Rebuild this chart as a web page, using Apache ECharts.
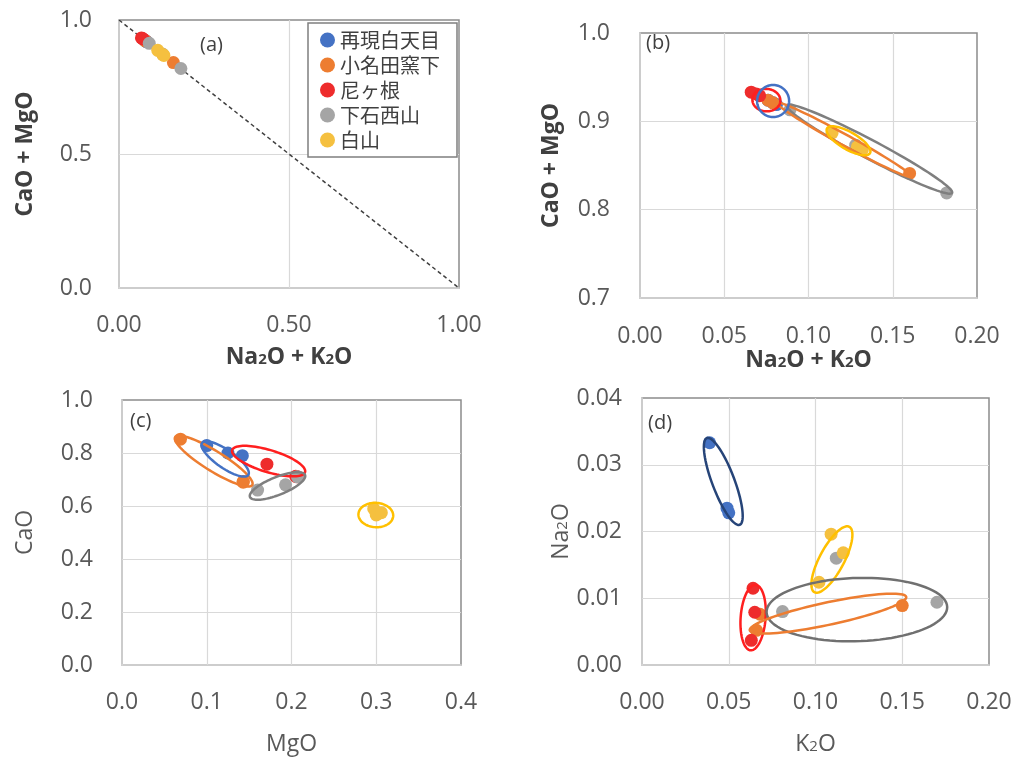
<!DOCTYPE html>
<html>
<head>
<meta charset="utf-8">
<script src="https://cdn.jsdelivr.net/npm/echarts@6/dist/echarts.min.js"></script>
<style>
html, body { margin: 0; padding: 0; background: #fff; }
#main { width: 1022px; height: 760px; }
</style>
</head>
<body>
<div id="main"></div>
<script>
// 産地名と色
var names = ['再現白天目', '小名田窯下', '尼ヶ根', '下石西山', '白山'];
var colors = ['#4472C4', '#ED7D31', '#EE2C2C', '#A5A5A5', '#F5C03F'];

// (a)(b) Na2O+K2O , CaO+MgO
var blueAB = [[0.076, 0.924], [0.079, 0.921], [0.081, 0.919]];
var orangeAB = [[0.076, 0.924], [0.079, 0.921], [0.160, 0.841]];
var redAB = [[0.066, 0.933], [0.069, 0.931], [0.071, 0.929]];
var grayAB = [[0.089, 0.913], [0.128, 0.873], [0.182, 0.819]];
var yellowAB = [[0.114, 0.887], [0.129, 0.871], [0.132, 0.868]];
var diagLine = [[0, 1], [1, 0]];

// (c) MgO , CaO
var blueC = [[0.100, 0.828], [0.125, 0.800], [0.142, 0.790]];
var orangeC = [[0.069, 0.852], [0.143, 0.692], [0.143, 0.690]];
var redC = [[0.171, 0.758], [0.205, 0.712], [0.207, 0.710]];
var grayC = [[0.160, 0.660], [0.193, 0.680], [0.207, 0.710]];
var yellowC = [[0.297, 0.590], [0.300, 0.566], [0.306, 0.575]];

// (d) K2O , Na2O
var blueD = [[0.039, 0.0333], [0.049, 0.0235], [0.050, 0.0228]];
var orangeD = [[0.068, 0.0076], [0.066, 0.0052], [0.150, 0.0089]];
var redD = [[0.064, 0.0115], [0.065, 0.0079], [0.063, 0.0037]];
var grayD = [[0.081, 0.0080], [0.112, 0.0160], [0.170, 0.0094]];
var yellowD = [[0.109, 0.0196], [0.116, 0.0168], [0.102, 0.0124]];

// 楕円: 長軸の両端 [x1, y1, x2, y2, 短軸/長軸]
var ellipseB = [
    [0.0872, 0.918, 0.1852, 0.819, 0.10],
    [0.0813, 0.921, 0.1614, 0.837, 0.07],
    [0.111, 0.892, 0.1365, 0.864, 0.35],
    [0.0667, 0.925, 0.0833, 0.923, 0.8],
    [0.0695, 0.923, 0.0885, 0.923, 1.0]
];
var ellipseBColors = ['#7F7F7F', '#ED7D31', '#FFC000', '#FF1F1F', '#4472C4'];
var ellipseC = [
    [0.0627, 0.860, 0.1537, 0.679, 0.22],
    [0.0945, 0.838, 0.149, 0.717, 0.32],
    [0.130, 0.811, 0.216, 0.728, 0.29],
    [0.151, 0.634, 0.216, 0.717, 0.30],
    [0.279, 0.570, 0.320, 0.562, 0.7]
];
var ellipseCColors = ['#ED7D31', '#4472C4', '#FF1F1F', '#7F7F7F', '#FFC000'];
var ellipseD = [
    [0.0374, 0.0340, 0.0563, 0.0210, 0.24],
    [0.1195, 0.0207, 0.0994, 0.0109, 0.33],
    [0.0655, 0.0120, 0.0626, 0.0022, 0.38],
    [0.0718, 0.0079, 0.1759, 0.0087, 0.35],
    [0.0621, 0.0052, 0.1523, 0.0102, 0.14]
];
var ellipseDColors = ['#264478', '#FFC000', '#FF1F1F', '#707070', '#ED7D31'];

var latin = 'Open Sans';
var tickColor = '#595959';

var chart = echarts.init(document.getElementById('main'));

function fmt(dec) {
    return function (v) { return v.toFixed(dec); };
}

function nameStyle(bold, color) {
    return {
        fontFamily: latin,
        fontSize: 23,
        fontWeight: bold ? 'bold' : 'normal',
        color: color,
        rich: {
            s: {
                fontFamily: latin,
                fontSize: 15,
                fontWeight: bold ? 'bold' : 'normal',
                color: color,
                verticalAlign: 'bottom',
                padding: [0, 0, 2, 0]
            }
        }
    };
}

function makeAxis(idx, min, max, interval, dec, name, gap, margin, bold, color) {
    return {
        type: 'value',
        gridIndex: idx,
        min: min,
        max: max,
        interval: interval,
        name: name,
        nameLocation: 'middle',
        nameGap: gap,
        nameTextStyle: nameStyle(bold, color),
        axisLine: { show: true, lineStyle: { color: '#D9D9D9', width: 1.5 } },
        axisTick: { show: false },
        axisLabel: {
            formatter: fmt(dec),
            margin: margin,
            fontFamily: latin,
            fontSize: 23,
            color: tickColor
        },
        splitLine: {
            show: true,
            showMinLine: false,
            showMaxLine: false,
            lineStyle: { color: '#D9D9D9', width: 1.2 }
        }
    };
}

function scatter(name, data, color, xi) {
    return {
        name: name,
        type: 'scatter',
        xAxisIndex: xi,
        yAxisIndex: xi,
        data: data,
        symbolSize: 13,
        itemStyle: { color: color, opacity: 1 },
        z: 3
    };
}

function renderEllipse(params, api) {
    var a = api.coord([api.value(0), api.value(1)]);
    var b = api.coord([api.value(2), api.value(3)]);
    var ratio = api.value(4);
    var cx = (a[0] + b[0]) / 2, cy = (a[1] + b[1]) / 2;
    var dx = (b[0] - a[0]) / 2, dy = (b[1] - a[1]) / 2;
    var pts = [];
    for (var i = 0; i < 90; i++) {
        var t = i / 90 * Math.PI * 2;
        pts.push([
            cx + dx * Math.cos(t) - dy * ratio * Math.sin(t),
            cy + dy * Math.cos(t) + dx * ratio * Math.sin(t)
        ]);
    }
    return {
        type: 'polygon',
        shape: { points: pts },
        style: { fill: 'none', stroke: api.visual('color'), lineWidth: 2.5 }
    };
}

function ellipses(list, cols, xi) {
    return {
        name: 'ellipse' + xi,
        type: 'custom',
        xAxisIndex: xi,
        yAxisIndex: xi,
        renderItem: renderEllipse,
        encode: { x: [0, 2], y: [1, 3] },
        data: list.map(function (v, i) {
            return { value: v, itemStyle: { color: cols[i] } };
        }),
        silent: true,
        z: 4
    };
}

var gridBase = { show: true, borderColor: '#8C8C8C', borderWidth: 1.5, backgroundColor: '#fff' };

var seriesAB = [blueAB, orangeAB, redAB, grayAB, yellowAB];
var seriesC = [blueC, orangeC, redC, grayC, yellowC];
var seriesD = [blueD, orangeD, redD, grayD, yellowD];

var series = [];
series.push({
    type: 'line',
    xAxisIndex: 0,
    yAxisIndex: 0,
    data: diagLine,
    symbol: 'none',
    silent: true,
    lineStyle: { color: '#404040', width: 1.5, type: [4, 3] },
    z: 2
});
names.forEach(function (n, i) { series.push(scatter(n, seriesAB[i], colors[i], 0)); });
names.forEach(function (n, i) { series.push(scatter(n, seriesAB[i], colors[i], 1)); });
series.push(ellipses(ellipseB, ellipseBColors, 1));
names.forEach(function (n, i) { series.push(scatter(n, seriesC[i], colors[i], 2)); });
series.push(ellipses(ellipseC, ellipseCColors, 2));
names.forEach(function (n, i) { series.push(scatter(n, seriesD[i], colors[i], 3)); });
series.push(ellipses(ellipseD, ellipseDColors, 3));

var labelStyle = { fontFamily: latin, fontSize: 20, fill: '#404040' };

chart.setOption({
    animation: false,
    backgroundColor: '#fff',
    grid: [
        Object.assign({ left: 119, right: 563, top: 20, bottom: 472 }, gridBase),
        Object.assign({ left: 640, right: 45, top: 33, bottom: 462 }, gridBase),
        Object.assign({ left: 122, right: 561, top: 400, bottom: 95 }, gridBase),
        Object.assign({ left: 642, right: 33, top: 398, bottom: 95 }, gridBase)
    ],
    xAxis: [
        makeAxis(0, 0, 1, 0.5, 2, 'Na{s|2}O + K{s|2}O', 58, 26, true, '#404040'),
        makeAxis(1, 0, 0.2, 0.05, 2, 'Na{s|2}O + K{s|2}O', 50, 27, true, '#404040'),
        makeAxis(2, 0, 0.4, 0.1, 1, 'MgO', 68, 26, false, tickColor),
        makeAxis(3, 0, 0.2, 0.05, 2, 'K{s|2}O', 68, 26, false, tickColor)
    ],
    yAxis: [
        makeAxis(0, 0, 1, 0.5, 1, 'CaO + MgO', 82, 27, true, '#404040'),
        makeAxis(1, 0.7, 1.0, 0.1, 1, 'CaO + MgO', 77, 30, true, '#404040'),
        makeAxis(2, 0, 1, 0.2, 1, 'CaO', 85, 29, false, tickColor),
        makeAxis(3, 0, 0.04, 0.01, 2, 'Na{s|2}O', 65, 20, false, tickColor)
    ],
    legend: {
        data: names,
        orient: 'vertical',
        left: 308,
        top: 23,
        icon: 'circle',
        itemWidth: 15,
        itemHeight: 15,
        itemGap: 5,
        padding: [7, 17, 7, 12],
        borderColor: '#7F7F7F',
        borderWidth: 1.5,
        backgroundColor: '#fff',
        selectedMode: false,
        textStyle: {
            fontFamily: 'Noto Sans CJK JP',
            fontSize: 20,
            lineHeight: 20,
            color: '#404040'
        },
        z: 10
    },
    graphic: [
        { type: 'text', left: 200, top: 35, style: Object.assign({ text: '(a)' }, labelStyle) },
        { type: 'text', left: 646, top: 33, style: Object.assign({ text: '(b)' }, labelStyle) },
        { type: 'text', left: 130, top: 411, style: Object.assign({ text: '(c)' }, labelStyle) },
        { type: 'text', left: 648, top: 413, style: Object.assign({ text: '(d)' }, labelStyle) }
    ],
    series: series
});
</script>
</body>
</html>
